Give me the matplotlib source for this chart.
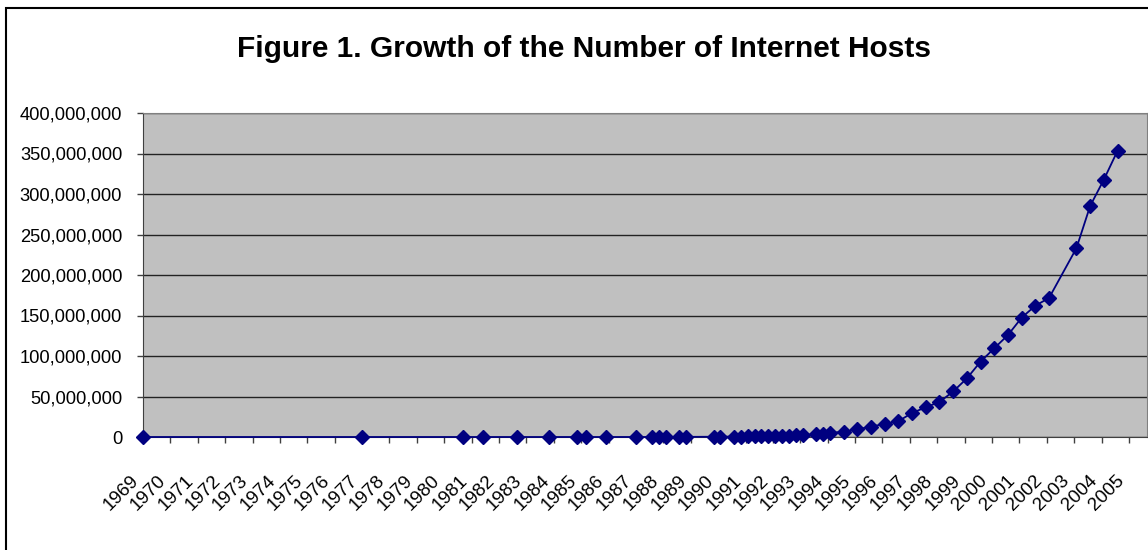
import matplotlib
matplotlib.use("Agg")
from matplotlib import pyplot as plt
from matplotlib.patches import Rectangle
from matplotlib.ticker import FuncFormatter, FixedLocator
from matplotlib.transforms import ScaledTranslation

plt.rcParams['font.family'] = ['Liberation Sans', 'DejaVu Sans']

# survey dates (mm/yy) and host counts
dates = ["12/69", "12/77", "08/81", "05/82", "08/83", "10/84", "10/85", "02/86",
         "11/86", "12/87", "07/88", "10/88", "01/89", "07/89", "10/89", "10/90",
         "01/91", "07/91", "10/91", "01/92", "04/92", "07/92", "10/92", "01/93",
         "04/93", "07/93", "10/93", "01/94", "07/94", "10/94", "01/95", "07/95",
         "01/96", "07/96", "01/97", "07/97", "01/98", "07/98", "01/99", "07/99",
         "01/00", "07/00", "01/01", "07/01", "01/02", "07/02", "01/03", "01/04",
         "07/04", "01/05", "07/05"]
hosts = [4, 111, 213, 235, 562, 1024, 1961, 2308,
         5089, 28174, 33000, 56000, 80000, 130000, 159000, 313000,
         376000, 535000, 617000, 727000, 890000, 992000, 1136000, 1313000,
         1486000, 1776000, 2056000, 2217000, 3212000, 3864000, 4852000, 6642000,
         9472000, 12881000, 16146000, 19540000, 29670000, 36739000, 43230000, 56218000,
         72398092, 93047785, 109574429, 125888197, 147344723, 162128493, 171638297, 233101481,
         285139107, 317646084, 353284187]
years = list(range(1969, 2006))


def to_year(s):
    m, y = s.split("/")
    y = int(y)
    y = 1900 + y if y > 50 else 2000 + y
    return y + (int(m) - 1) / 12.0


x = [to_year(d) for d in dates]

fig = plt.figure(figsize=(11.48, 5.5), dpi=100)
ax = fig.add_axes([143 / 1148, 113 / 550, 1004 / 1148, 324 / 550])
ax.set_facecolor('#C0C0C0')

ax.plot(x, hosts, color='#000080', lw=1.3, marker='D', markersize=7,
        markerfacecolor='#000080', markeredgecolor='#000080', clip_on=False, zorder=3)

# ticks sit at December of each year (first survey 12/69)
tick_pos = [y + 11 / 12 for y in years]
ax.xaxis.set_major_locator(FixedLocator(tick_pos))
ax.set_xticklabels([str(y) for y in years], rotation=45, ha='right', va='top',
                   rotation_mode='anchor')
ax.set_xlim(1969 + 11 / 12, 1969 + 11 / 12 + 36.66)
ax.set_ylim(0, 400000000)
ax.yaxis.set_major_locator(FixedLocator(range(0, 400000001, 50000000)))
ax.yaxis.set_major_formatter(FuncFormatter(lambda v, p: f"{int(v):,}"))

ax.grid(axis='y', color='#222222', lw=1.0)
ax.set_axisbelow(True)
ax.tick_params(axis='y', direction='out', length=4.5, width=1, color='#404040',
               labelsize=13.2, pad=10.5)
ax.tick_params(axis='x', direction='out', length=4, width=1, color='#404040',
               labelsize=13.6, pad=12)
shift = ScaledTranslation(-0.13, -0.13, fig.dpi_scale_trans)
for lab in ax.get_xticklabels():
    lab.set_transform(lab.get_transform() + shift)

for side in ['top', 'right']:
    ax.spines[side].set_color('#808080')
for side in ['left', 'bottom']:
    ax.spines[side].set_color('#404040')

fig.text(584 / 1148, 1 - 49 / 550, "Figure 1. Growth of the Number of Internet Hosts",
         ha='center', va='center', fontsize=21.5, fontweight='bold')

fig.patches.append(Rectangle((6 / 1148, -0.1), 2.0, 1.1 - 8 / 550,
                             transform=fig.transFigure, fill=False,
                             edgecolor='black', lw=1.5))

fig.savefig("out.png", dpi=100)
